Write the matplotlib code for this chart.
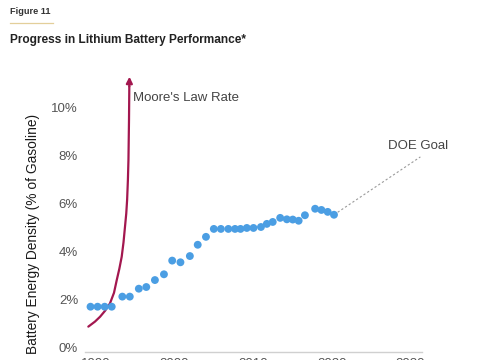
import matplotlib.pyplot as plt

plt.rcParams['font.family'] = ['Liberation Sans', 'DejaVu Sans']

# battery energy density, % of gasoline
years = [1989.3, 1990.2, 1991.1, 1992.0, 1993.35, 1994.3, 1995.45, 1996.4,
         1997.5, 1998.65, 1999.7, 2000.75, 2001.95, 2002.95, 2004.0, 2005.0,
         2005.9, 2006.85, 2007.7, 2008.4, 2009.2, 2010.05, 2011.0, 2011.75,
         2012.5, 2013.45, 2014.3, 2015.05, 2015.8, 2016.6, 2017.9, 2018.7,
         2019.5, 2020.3]
density = [1.72, 1.72, 1.72, 1.72, 2.14, 2.14, 2.47, 2.54,
           2.83, 3.07, 3.64, 3.57, 3.83, 4.30, 4.63, 4.96,
           4.96, 4.96, 4.96, 4.96, 5.00, 5.00, 5.04, 5.17,
           5.25, 5.42, 5.36, 5.35, 5.30, 5.53, 5.80, 5.75,
           5.67, 5.55]

# Moore's law curve
moore_years = [1989.02, 1989.87, 1990.51, 1991.15, 1991.78, 1992.29, 1992.64,
               1992.97, 1993.27, 1993.50, 1993.69, 1993.85, 1993.96, 1994.06,
               1994.13, 1994.20, 1994.24]
moore_vals = [0.89, 1.1, 1.3, 1.55, 1.86, 2.3, 2.83,
              3.3, 3.8, 4.4, 5.05, 5.6, 6.17, 7.0,
              7.83, 9.5, 10.9]

# DOE goal extrapolation
doe_years = [2020.3, 2031.3]
doe_vals = [5.55, 7.96]

x_ticks = [1990, 2000, 2010, 2020, 2030]
y_ticks = [0, 2, 4, 6, 8, 10]

fig = plt.figure(figsize=(4.85, 3.6), dpi=100)
ax = fig.add_axes([0.1753, 0.0222, 0.6947, 0.7834])

ax.plot(doe_years, doe_vals, color='#9a9a9a', lw=0.8, ls=(0, (2, 2)))
ax.plot(moore_years, moore_vals, color='#a3174f', lw=1.6,
        solid_capstyle='round', solid_joinstyle='round')
ax.annotate('', xy=(1994.26, 11.3), xytext=(moore_years[-1], moore_vals[-1]),
            arrowprops=dict(arrowstyle='-|>', color='#a3174f', lw=1.6,
                            mutation_scale=9, shrinkA=0, shrinkB=0))
ax.scatter(years, density, s=32, color='#4b9ee3', edgecolors='none', zorder=3)

ax.text(1994.7, 10.43, "Moore's Law Rate", fontsize=9.5, color='#444444',
        va='center', ha='left')
ax.text(2027.2, 8.4, 'DOE Goal', fontsize=9.5, color='#444444',
        va='center', ha='left')

ax.set_xlim(1988.6, 2031.5)
ax.set_ylim(-0.167, 11.58)
ax.set_xticks(x_ticks)
ax.set_yticks(y_ticks)
ax.set_yticklabels([f'{v}%' for v in y_ticks])
ax.tick_params(length=0, labelsize=9.5, labelcolor='#555555')
ax.tick_params(axis='y', pad=5)
ax.tick_params(axis='x', pad=4)
for s in ['top', 'right', 'left']:
    ax.spines[s].set_visible(False)
ax.spines['bottom'].set_color('#d0d0d0')
ax.spines['bottom'].set_linewidth(1.0)

ax.set_ylabel('Battery Energy Density (% of Gasoline)', fontsize=9.9,
              color='#1a1a1a')
ax.yaxis.set_label_coords(-0.135, 0.42)

fig.text(10 / 485, 1 - 12 / 360, 'Figure 11', fontsize=6.6, fontweight='bold',
         color='#333333', va='center', ha='left')
fig.add_artist(plt.Line2D([10 / 485, 53 / 485], [1 - 22.7 / 360, 1 - 22.7 / 360],
                          color='#e3cf9a', lw=0.9))
fig.text(10 / 485, 1 - 40 / 360, 'Progress in Lithium Battery Performance*',
         fontsize=8.6, fontweight='bold', color='#222222', va='center', ha='left')

fig.savefig('out.png', dpi=100, facecolor='white')
